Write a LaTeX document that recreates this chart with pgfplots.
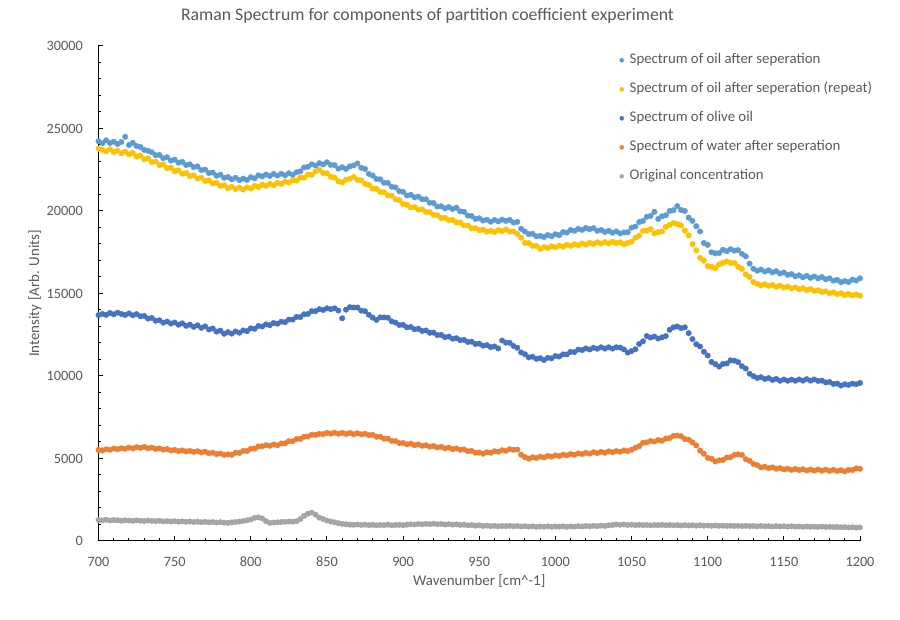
\documentclass[border=0pt]{standalone}
\usepackage{fontspec}
\setmainfont{Carlito}
\usepackage{pgfplots}
\usepackage{pgfplotstable}
\pgfplotsset{compat=1.18}
\definecolor{cA}{HTML}{5B9BD5}
\definecolor{cB}{HTML}{FFC000}
\definecolor{cC}{HTML}{4472C4}
\definecolor{cD}{HTML}{ED7D31}
\definecolor{cE}{HTML}{A5A5A5}
\definecolor{txt}{HTML}{595959}
\pgfplotstableread{
x A B C D E
700 24230 23780 13690 5520 1280
702.5 24100 23700 13760 5490 1250
705 24280 23620 13700 5560 1290
707.5 24120 23740 13820 5530 1240
710 24200 23580 13740 5600 1270
712.5 24060 23650 13840 5560 1260
715 24180 23500 13760 5620 1230
717.5 24500 23600 13700 5590 1250
720 24000 23440 13790 5660 1240
722.5 24130 23520 13680 5610 1220
725 23940 23300 13750 5690 1250
727.5 23880 23360 13620 5650 1230
730 23700 23140 13640 5700 1210
732.5 23650 23190 13480 5620 1240
735 23560 22960 13520 5660 1220
737.5 23380 23000 13350 5580 1200
740 23400 22780 13380 5610 1230
742.5 23200 22820 13230 5540 1190
745 23260 22600 13300 5570 1210
747.5 23060 22620 13180 5490 1180
750 23110 22420 13240 5520 1200
752.5 22930 22460 13110 5450 1170
755 22980 22260 13190 5490 1190
757.5 22790 22300 13040 5430 1160
760 22830 22120 13110 5460 1180
762.5 22660 22160 12980 5400 1150
765 22700 21970 13070 5440 1170
767.5 22480 22020 12920 5370 1140
770 22510 21820 13010 5410 1160
772.5 22300 21860 12820 5320 1130
775 22330 21670 12880 5350 1150
777.5 22140 21710 12690 5270 1120
780 22200 21520 12750 5300 1140
782.5 22010 21570 12560 5220 1110
785 22060 21380 12660 5250 1100
787.5 21920 21470 12570 5230 1130
790 22010 21330 12700 5350 1150
792.5 21870 21420 12620 5340 1180
795 21960 21300 12760 5460 1210
797.5 21880 21430 12720 5460 1250
800 22050 21360 12890 5590 1300
802.5 21980 21520 12860 5600 1400
805 22160 21460 13030 5730 1430
807.5 22100 21600 13000 5740 1370
810 22210 21530 13130 5810 1200
812.5 22120 21650 13080 5770 1100
815 22250 21570 13210 5850 1120
817.5 22150 21700 13170 5800 1130
820 22260 21640 13290 5910 1150
822.5 22160 21780 13260 5920 1160
825 22290 21730 13420 6050 1180
827.5 22190 21870 13420 6050 1170
830 22350 21840 13580 6180 1200
832.5 22400 22030 13570 6190 1330
835 22640 22020 13740 6320 1520
837.5 22680 22210 13760 6330 1660
840 22830 22200 13930 6440 1720
842.5 22750 22400 13930 6430 1600
845 22900 22500 14050 6490 1420
847.5 22820 22300 14000 6480 1330
850 22950 22290 14100 6550 1240
852.5 22790 22070 14050 6510 1180
855 22780 22020 14100 6560 1130
857.5 22570 21800 13970 6500 1080
860 22650 21740 13500 6550 1040
862.5 22550 21900 14020 6490 1010
865 22700 21950 14170 6540 990
867.5 22760 22060 14150 6480 980
870 22880 21890 14150 6530 1000
872.5 22620 21860 13960 6470 970
875 22550 21640 13930 6500 990
877.5 22250 21580 13710 6420 960
880 22150 21360 13540 6430 980
882.5 21940 21340 13400 6320 950
885 21920 21160 13550 6320 970
887.5 21710 21140 13550 6200 960
890 21700 20950 13530 6200 990
892.5 21470 20930 13310 6070 950
895 21430 20710 13240 6060 970
897.5 21200 20660 13090 5930 980
900 21160 20420 13100 5940 960
902.5 20940 20380 12950 5860 990
905 20980 20220 12970 5900 1010
907.5 20830 20240 12830 5810 1000
910 20870 20090 12860 5850 1030
912.5 20710 20100 12730 5770 1010
915 20710 19940 12760 5800 1040
917.5 20500 19930 12620 5720 1020
920 20480 19760 12630 5750 1050
922.5 20270 19740 12480 5670 1020
925 20290 19580 12490 5710 1030
927.5 20160 19590 12350 5620 1000
930 20240 19450 12390 5660 1020
932.5 20120 19460 12260 5570 990
935 20200 19310 12290 5610 1010
937.5 19980 19300 12170 5530 970
940 19950 19130 12190 5550 990
942.5 19720 19120 12060 5440 950
945 19700 18950 12080 5460 970
947.5 19520 18960 11940 5350 930
950 19560 18840 11960 5360 950
952.5 19420 18870 11840 5290 910
955 19470 18750 11870 5380 930
957.5 19350 18790 11750 5350 900
960 19460 18730 11790 5440 920
962.5 19370 18840 11670 5410 890
965 19480 18780 12150 5500 910
967.5 19400 18880 12020 5470 900
970 19460 18750 12010 5560 920
972.5 19300 18760 11820 5530 890
975 19340 18610 11710 5540 910
977.5 18920 18380 11430 5230 880
980 18760 18070 11320 5080 900
982.5 18600 18060 11130 4990 870
985 18620 17890 11170 5070 890
987.5 18470 17880 11040 5030 860
990 18490 17710 11080 5110 880
992.5 18420 17810 10970 5070 870
995 18540 17760 11100 5150 890
997.5 18470 17860 11070 5110 860
1000 18590 17800 11210 5190 880
1002.5 18540 17900 11180 5150 870
1005 18720 17840 11310 5230 890
1007.5 18690 17950 11310 5190 860
1010 18850 17890 11460 5270 880
1012.5 18800 17990 11450 5230 870
1015 18920 17930 11600 5310 900
1017.5 18850 18030 11570 5270 880
1020 18970 17970 11670 5340 910
1022.5 18900 18070 11610 5300 890
1025 18960 18010 11710 5380 920
1027.5 18800 18100 11650 5330 900
1030 18850 18030 11740 5400 930
1032.5 18730 18110 11660 5350 910
1035 18800 18040 11740 5430 950
1037.5 18680 18130 11660 5380 970
1040 18760 18060 11740 5450 1000
1042.5 18640 18100 11720 5410 980
1045 18700 17990 11610 5490 1000
1047.5 18720 18070 11420 5450 970
1050 18990 18140 11510 5530 990
1052.5 19060 18380 11620 5650 960
1055 19330 18510 11940 5750 980
1057.5 19400 18800 12100 5950 960
1060 19650 18810 12420 5980 970
1062.5 19700 18900 12330 6060 950
1065 19950 18640 12390 6030 970
1067.5 19520 18720 12270 6120 960
1070 19680 18760 12340 6080 980
1072.5 19740 19040 12420 6210 950
1075 20000 19160 12800 6230 970
1077.5 20050 19270 12950 6370 950
1080 20300 19210 13000 6390 960
1082.5 20060 19130 12900 6350 940
1085 20000 18810 12950 6180 960
1087.5 19600 18520 12600 6140 940
1090 19400 17990 12240 5980 950
1092.5 19080 17620 11930 5790 930
1095 18760 17160 11790 5480 950
1097.5 18060 16990 11470 5290 930
1100 17950 16660 11240 5040 940
1102.5 17500 16620 10850 4990 920
1105 17440 16530 10720 4820 940
1107.5 17450 16770 10570 4890 920
1110 17650 16860 10730 4910 930
1112.5 17560 16940 10760 5060 910
1115 17680 16860 10950 5080 930
1117.5 17600 16850 10930 5220 910
1120 17630 16620 10840 5250 920
1122.5 17400 16490 10590 5220 900
1125 17250 16160 10450 4960 920
1127.5 16810 16000 10140 4860 900
1130 16500 15690 9990 4670 910
1132.5 16380 15590 9880 4600 890
1135 16450 15490 9930 4460 910
1137.5 16330 15560 9820 4500 890
1140 16400 15460 9870 4420 900
1142.5 16280 15520 9760 4460 880
1145 16350 15410 9820 4380 900
1147.5 16210 15470 9710 4420 880
1150 16270 15360 9790 4340 890
1152.5 16130 15420 9710 4380 870
1155 16180 15310 9780 4310 890
1157.5 16040 15370 9710 4360 870
1160 16100 15260 9790 4300 880
1162.5 15980 15320 9720 4350 860
1165 16070 15210 9810 4280 880
1167.5 15950 15270 9720 4330 860
1170 16030 15160 9790 4270 870
1172.5 15920 15200 9700 4330 850
1175 16000 15090 9720 4260 870
1177.5 15860 15130 9610 4320 850
1180 15920 15010 9640 4250 860
1182.5 15780 15070 9520 4310 840
1185 15830 14960 9540 4240 850
1187.5 15690 15010 9420 4290 830
1190 15750 14910 9500 4220 840
1192.5 15700 14970 9460 4310 820
1195 15840 14890 9540 4300 830
1197.5 15790 14940 9500 4400 810
1200 15920 14870 9580 4380 820
}\spec
\begin{document}
\begin{tikzpicture}
\path[use as bounding box] (-73.875pt,-59.25pt) rectangle (601.125pt,405.75pt);
\begin{axis}[
  at={(0pt,0pt)}, anchor=south west,
  width=571.125pt, height=371.25pt, scale only axis,
  xmin=700, xmax=1200, ymin=0, ymax=30000,
  axis lines=left,
  axis line style={-, line width=0.75pt, black},
  xtick={700,750,...,1200}, minor x tick num=4,
  ytick={0,5000,...,30000}, minor y tick num=4,
  tick align=inside,
  major tick length=3.75pt, minor tick length=2pt,
  every tick/.style={black, line width=0.75pt},
  scaled y ticks=false, scaled x ticks=false,
  /pgf/number format/assume math mode=true,
  /pgf/number format/1000 sep={},
  ticklabel style={font=\fontsize{10.7}{12}\selectfont, text=txt, inner sep=0pt},
  xticklabel style={anchor=center, yshift=-15.75pt},
  yticklabel style={anchor=east, xshift=-11.6pt},
  legend cell align=left,
  legend style={at={(rel axis cs:0.6845,0.9845)}, anchor=north west, draw=none, fill=none,
    inner sep=0pt, outer sep=0pt, row sep=11.75pt, column sep=4.5pt,
    nodes={inner sep=0pt, text height=7.5pt, text depth=2.5pt, font=\fontsize{11.1}{13}\selectfont, text=txt}},
  legend image code/.code={\draw[#1, mark size=1.5pt, mark repeat=2, mark phase=2] plot coordinates {(0pt,0pt)(3pt,0pt)(6pt,0pt)};},
  every axis plot/.append style={only marks, mark=*, mark size=2.05pt, line width=0.3pt},
]
\addplot[color=cA] table[x=x, y=A] {\spec};
\addlegendentry{Spectrum of oil after seperation}
\addplot[color=cB] table[x=x, y=B] {\spec};
\addlegendentry{Spectrum of oil after seperation (repeat)}
\addplot[color=cC] table[x=x, y=C] {\spec};
\addlegendentry{Spectrum of olive oil}
\addplot[color=cD] table[x=x, y=D] {\spec};
\addlegendentry{Spectrum of water after seperation}
\addplot[color=cE] table[x=x, y=E] {\spec};
\addlegendentry{Original concentration}
\end{axis}
\node[anchor=base, text=txt, font=\fontsize{13.3}{16}\selectfont, inner sep=0pt] at (246.75pt,390pt) {Raman Spectrum for components of partition coefficient experiment};
\node[anchor=center, text=txt, font=\fontsize{11.2}{13}\selectfont, inner sep=0pt] at (285.56pt,-30pt) {Wavenumber [cm\^{}-1]};
\node[anchor=center, rotate=90, text=txt, font=\fontsize{11.2}{13}\selectfont, inner sep=0pt] at (-47.6pt,185.6pt) {Intensity [Arb. Units]};
\end{tikzpicture}
\end{document}
